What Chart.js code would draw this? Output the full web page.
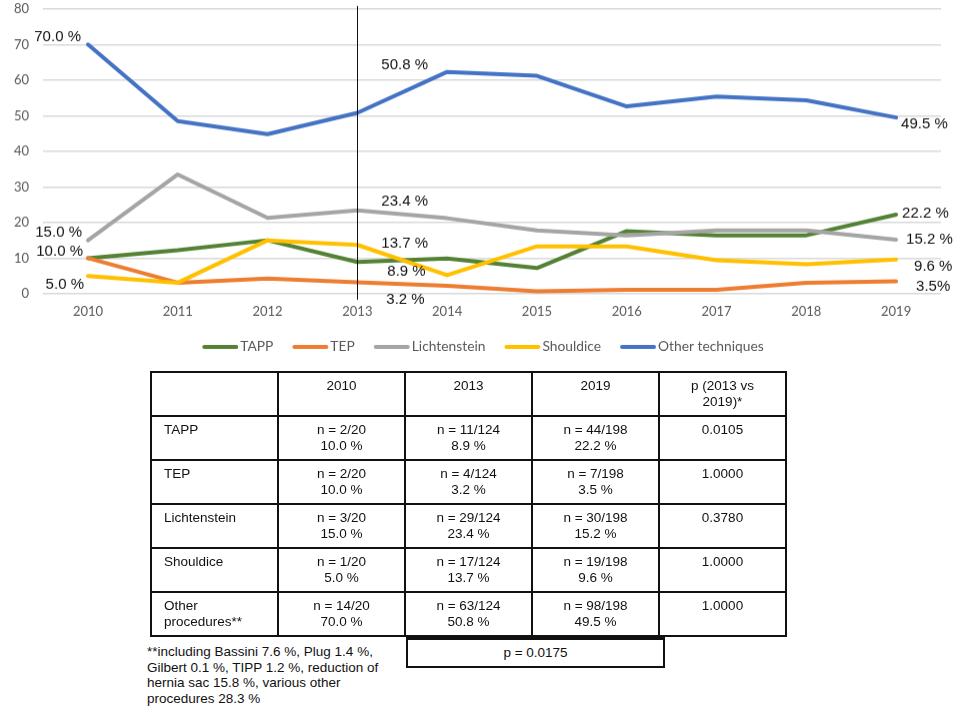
<!DOCTYPE html>
<html>
<head>
<meta charset="utf-8">
<script src="https://cdn.jsdelivr.net/npm/chart.js@4.4.1/dist/chart.umd.min.js"></script>
<style>
  html, body { margin: 0; padding: 0; background: #fff; }
  #page { position: relative; width: 957px; height: 712px; overflow: hidden; }
  #chartBox { position: absolute; left: 0; top: -13px; width: 957px; height: 385.5px; }
  #tbl {
    position: absolute; left: 150px; top: 371px;
    border-collapse: collapse; table-layout: fixed;
    font-family: "Liberation Sans", Arial, sans-serif; font-size: 13.5px;
    line-height: 16.3px; color: #111;
  }
  #tbl td {
    border: 2px solid #111; width: 125px; height: 37px;
    vertical-align: top; text-align: center; padding: 5px 0 0 0;
    white-space: pre-line;
  }
  #tbl td.name { text-align: left; padding-left: 12px; width: 113px; }
  #pBox {
    position: absolute; left: 406px; top: 637px; width: 255px; height: 26px;
    border: 2px solid #111; border-top-width: 3px;
    font-family: "Liberation Sans", Arial, sans-serif; font-size: 13.5px;
    line-height: 26px; text-align: center; color: #111;
  }
  #note {
    position: absolute; left: 147px; top: 644px; width: 250px;
    font-family: "Liberation Sans", Arial, sans-serif; font-size: 13.5px;
    line-height: 15.7px; color: #111; white-space: pre-line;
  }
</style>
</head>
<body>
<div id="page">
  <div id="chartBox"><canvas id="trendChart"></canvas></div>
  <table id="tbl"></table>
  <div id="pBox"></div>
  <div id="note"></div>
</div>
<script>
// ---- data ----
const years = ['2010', '2011', '2012', '2013', '2014', '2015', '2016', '2017', '2018', '2019'];
const seriesNames = ['TAPP', 'TEP', 'Lichtenstein', 'Shouldice', 'Other techniques'];

const tapp         = [10.0, 12.2, 15.0, 8.9, 9.9, 7.2, 17.6, 16.4, 16.4, 22.2];
const tep          = [10.0, 3.1, 4.3, 3.2, 2.2, 0.7, 1.1, 1.1, 3.1, 3.5];
const lichtenstein = [15.0, 33.5, 21.3, 23.4, 21.2, 17.8, 16.4, 17.8, 17.8, 15.2];
const shouldice    = [5.0, 3.1, 15.0, 13.7, 5.2, 13.3, 13.3, 9.4, 8.3, 9.6];
const otherTech    = [70.0, 48.5, 44.8, 50.8, 62.3, 61.2, 52.6, 55.4, 54.3, 49.5];

const yTicks = [0, 10, 20, 30, 40, 50, 60, 70, 80];
const markerYear = '2013';

// table
const tableHeader = ['', '2010', '2013', '2019', 'p (2013 vs\n2019)*'];
const tableRowNames = ['TAPP', 'TEP', 'Lichtenstein', 'Shouldice', 'Other\nprocedures**'];
const tableTotals = [20, 124, 198];
const counts2010 = [2, 2, 3, 1, 14];
const counts2013 = [11, 4, 29, 17, 63];
const counts2019 = [44, 7, 30, 19, 98];
const pct2010 = ['10.0', '10.0', '15.0', '5.0', '70.0'];
const pct2013 = ['8.9', '3.2', '23.4', '13.7', '50.8'];
const pct2019 = ['22.2', '3.5', '15.2', '9.6', '49.5'];
const pValues = ['0.0105', '1.0000', '0.3780', '1.0000', '1.0000'];
const pOverall = 'p = 0.0175';
const footnote = '**including Bassini 7.6 %, Plug 1.4 %,\nGilbert 0.1 %, TIPP 1.2 %, reduction of\nhernia sac 15.8 %, various other\nprocedures 28.3 %';

// ---- style ----
const colors = ['#548235', '#ed7d31', '#a5a5a5', '#ffc000', '#4472c4'];
const axisFont = { family: 'Lato, "Open Sans", sans-serif', size: 13 };
const legendFont = '13.8px Lato, "Open Sans", sans-serif';
const labelFont = '15px "Liberation Sans", Arial, sans-serif';

// value labels: series index, year index, offset from point, text anchor
const labelSpots = [
  { s: 4, i: 0, dx: -7, dy: -7, align: 'right' },
  { s: 2, i: 0, dx: -6, dy: -8, align: 'right' },
  { s: 0, i: 0, dx: -5, dy: -7, align: 'right' },
  { s: 3, i: 0, dx: -4, dy: 8.5, align: 'right' },
  { s: 4, i: 3, dx: 24, dy: -47.5, align: 'left' },
  { s: 2, i: 3, dx: 24, dy: -9.4, align: 'left' },
  { s: 3, i: 3, dx: 24, dy: -1.6, align: 'left' },
  { s: 0, i: 3, dx: 30, dy: 10, align: 'left' },
  { s: 1, i: 3, dx: 29, dy: 17, align: 'left' },
  { s: 4, i: 9, dx: 5, dy: 7, align: 'left' },
  { s: 0, i: 9, dx: 6, dy: -1, align: 'left' },
  { s: 2, i: 9, dx: 10, dy: 0, align: 'left' },
  { s: 3, i: 9, dx: 18, dy: 7, align: 'left' },
  { s: 1, i: 9, dx: 20, dy: 5.5, align: 'left', tight: true }
];

const allSeries = [tapp, tep, lichtenstein, shouldice, otherTech];

const valueLabels = {
  id: 'valueLabels',
  afterDatasetsDraw(chart) {
    const ctx = chart.ctx;
    ctx.save();
    ctx.font = labelFont;
    ctx.fillStyle = '#111';
    ctx.textBaseline = 'middle';
    labelSpots.forEach(spot => {
      const pt = chart.getDatasetMeta(spot.s).data[spot.i];
      const v = allSeries[spot.s][spot.i].toFixed(1);
      ctx.textAlign = spot.align;
      ctx.fillText(spot.tight ? v + '%' : v + ' %', pt.x + spot.dx, pt.y + spot.dy);
    });
    ctx.restore();
  }
};

const markerLine = {
  id: 'markerLine',
  afterDatasetsDraw(chart) {
    const ctx = chart.ctx;
    const x = Math.round(chart.scales.x.getPixelForValue(years.indexOf(markerYear))) + 0.5;
    ctx.save();
    ctx.strokeStyle = '#111';
    ctx.lineWidth = 1;
    ctx.beginPath();
    ctx.moveTo(x, chart.chartArea.top - 3);
    ctx.lineTo(x, chart.chartArea.bottom + 6);
    ctx.stroke();
    ctx.restore();
  }
};

// excel-like legend: short thick line, tight text, centred row below the axis
const lineLegend = {
  id: 'lineLegend',
  afterDraw(chart) {
    const ctx = chart.ctx;
    const mark = 36, gapText = 2, gapItem = 19;
    const y = chart.chartArea.bottom + 53;
    ctx.save();
    ctx.font = legendFont;
    const widths = seriesNames.map(n => ctx.measureText(n).width);
    const total = widths.reduce((a, w) => a + mark + gapText + w, 0) + gapItem * (seriesNames.length - 1);
    let x = 483 - total / 2;
    ctx.textBaseline = 'middle';
    ctx.textAlign = 'left';
    seriesNames.forEach((n, k) => {
      ctx.strokeStyle = colors[k];
      ctx.lineWidth = 4;
      ctx.lineCap = 'round';
      ctx.beginPath();
      ctx.moveTo(x + 2, y);
      ctx.lineTo(x + mark - 2, y);
      ctx.stroke();
      ctx.fillStyle = '#595959';
      ctx.fillText(n, x + mark + gapText, y);
      x += mark + gapText + widths[k] + gapItem;
    });
    ctx.restore();
  }
};

new Chart(document.getElementById('trendChart'), {
  type: 'line',
  data: {
    labels: years,
    datasets: allSeries.map((vals, k) => ({
      label: seriesNames[k],
      data: vals,
      borderColor: colors[k],
      backgroundColor: colors[k],
      borderWidth: 4,
      pointRadius: 0,
      tension: 0,
      borderJoinStyle: 'round',
      borderCapStyle: 'round',
      order: 5 - k
    }))
  },
  options: {
    responsive: true,
    maintainAspectRatio: false,
    animation: false,
    layout: { padding: { top: 0, left: 0, right: 16, bottom: 44 } },
    scales: {
      x: {
        offset: true,
        grid: { display: false, drawTicks: false },
        border: { display: false },
        ticks: { color: '#595959', font: axisFont, padding: 10, maxRotation: 0 }
      },
      y: {
        min: 0,
        max: 80,
        afterBuildTicks: axis => { axis.ticks = yTicks.map(v => ({ value: v })); },
        grid: { color: '#d9d9d9', lineWidth: 1.5, drawTicks: false },
        border: { display: false },
        ticks: { color: '#595959', font: axisFont, padding: 14 }
      }
    },
    plugins: {
      legend: { display: false },
      tooltip: { enabled: false }
    }
  },
  plugins: [valueLabels, markerLine, lineLegend]
});

// ---- table ----
const tbl = document.getElementById('tbl');
function addRow(cells) {
  const tr = document.createElement('tr');
  cells.forEach((txt, k) => {
    const td = document.createElement('td');
    if (k === 0) td.className = 'name';
    td.textContent = txt;
    tr.appendChild(td);
  });
  tbl.appendChild(tr);
}
addRow(tableHeader);
tableRowNames.forEach((name, r) => {
  addRow([
    name,
    'n = ' + counts2010[r] + '/' + tableTotals[0] + '\n' + pct2010[r] + ' %',
    'n = ' + counts2013[r] + '/' + tableTotals[1] + '\n' + pct2013[r] + ' %',
    'n = ' + counts2019[r] + '/' + tableTotals[2] + '\n' + pct2019[r] + ' %',
    pValues[r]
  ]);
});
document.getElementById('pBox').textContent = pOverall;
document.getElementById('note').textContent = footnote;
</script>
</body>
</html>
